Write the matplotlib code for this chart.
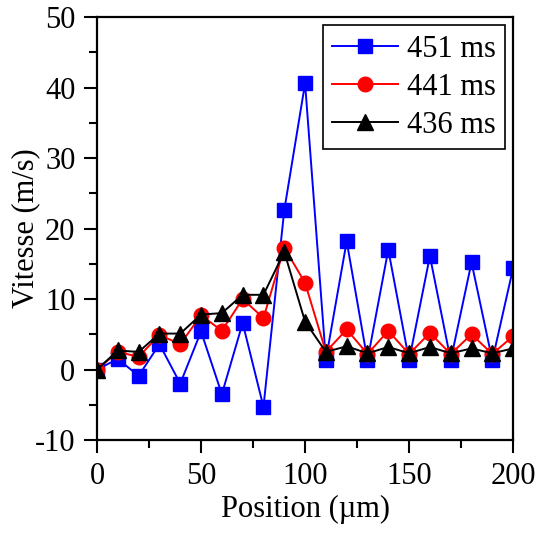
import numpy as np
import matplotlib
matplotlib.use('Agg')
import matplotlib.pyplot as plt
from matplotlib.ticker import MultipleLocator

plt.rcParams['font.family'] = ['Liberation Serif', 'DejaVu Serif']
plt.rcParams['axes.unicode_minus'] = False

position = np.arange(0, 201, 10)
v451 = [0, 1.5, -0.9, 3.6, -2.0, 5.4, -3.5, 6.6, -5.3, 22.6, 40.6,
        1.4, 18.2, 1.3, 17.0, 1.3, 16.1, 1.3, 15.2, 1.3, 14.4]
v441 = [0, 2.5, 1.8, 4.9, 3.6, 7.7, 5.5, 10.0, 7.3, 17.3, 12.3,
        2.5, 5.7, 2.2, 5.5, 2.2, 5.2, 2.2, 5.0, 2.2, 4.75]
v436 = [0, 2.7, 2.5, 5.1, 5.1, 7.8, 8.0, 10.6, 10.6, 16.7, 6.8,
        2.5, 3.3, 2.3, 3.2, 2.3, 3.2, 2.3, 3.0, 2.3, 3.0]

fs = 22

fig = plt.figure(figsize=(5.39, 5.34), dpi=100)
ax = fig.add_axes([0.180, 0.176, 0.772, 0.792])

ax.plot(position, v451, color='#0000FF', marker='s', markersize=9.5, lw=1.4, label='451 ms')
ax.plot(position, v441, color='#FF0000', marker='o', markersize=10.5, lw=1.4, label='441 ms')
ax.plot(position, v436, color='black', marker='^', markersize=11, lw=1.4, label='436 ms')

ax.set_xlim(0, 200)
ax.set_ylim(-10, 50)
ax.xaxis.set_major_locator(MultipleLocator(50))
ax.xaxis.set_minor_locator(MultipleLocator(25))
ax.yaxis.set_major_locator(MultipleLocator(10))
ax.yaxis.set_minor_locator(MultipleLocator(5))
ax.tick_params(which='major', direction='out', length=9.5, width=1.5, labelsize=fs, pad=6)
ax.tick_params(which='minor', direction='out', length=5.5, width=1.5)
for s in ax.spines.values():
    s.set_linewidth(1.6)

ax.set_xlabel('Position (µm)', fontsize=fs, labelpad=3)
ax.set_ylabel('Vitesse (m/s)', fontsize=fs, labelpad=-4)

leg = ax.legend(loc='upper right', fontsize=fs, fancybox=False, edgecolor='black',
                handlelength=2.15, borderpad=0.3, labelspacing=0.3, handletextpad=0.3,
                borderaxespad=0.27, framealpha=1)
leg.get_frame().set_linewidth(1.2)

fig.savefig('out.png', dpi=100)
